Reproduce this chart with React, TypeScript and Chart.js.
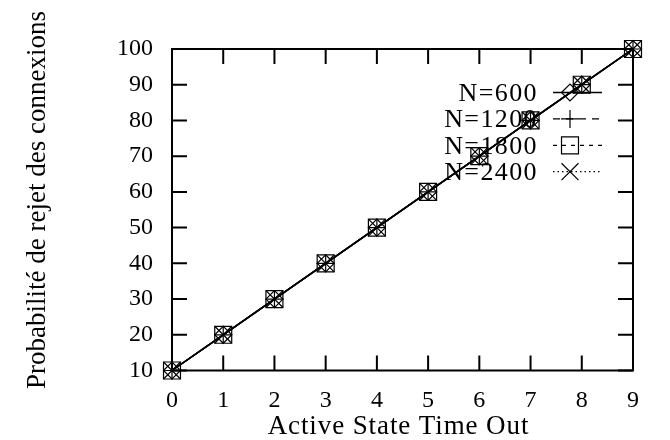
import React, { useEffect, useRef } from 'react';
import { Chart, registerables } from 'chart.js';

Chart.register(...registerables);

const timeOuts = [0, 1, 2, 3, 4, 5, 6, 7, 8, 9];
const rejectN600 = [10, 20, 30, 40, 50, 60, 70, 80, 90, 100];
const rejectN1200 = [10, 20, 30, 40, 50, 60, 70, 80, 90, 100];
const rejectN1800 = [10, 20, 30, 40, 50, 60, 70, 80, 90, 100];
const rejectN2400 = [10, 20, 30, 40, 50, 60, 70, 80, 90, 100];
const seriesLabels = ['N=600', 'N=1200', 'N=1800', 'N=2400'];
const xTitle = 'Active State Time Out';
const yTitle = 'Probabilité de rejet des connexions';

const FONT = '"Liberation Serif", "Times New Roman", serif';
const pointStyles = ['rectRot', 'cross', 'rect', 'crossRot'];
const pointRadii = [8.5, 9, 12, 12];
const legendDashes: number[][] = [[], [7, 6], [4, 5], [1.5, 3]];

function drawMarker(ctx: CanvasRenderingContext2D, style: string, x: number, y: number, r: number) {
  ctx.beginPath();
  if (style === 'rectRot') {
    ctx.moveTo(x - r, y);
    ctx.lineTo(x, y - r);
    ctx.lineTo(x + r, y);
    ctx.lineTo(x, y + r);
    ctx.closePath();
  } else if (style === 'cross') {
    ctx.moveTo(x, y - r);
    ctx.lineTo(x, y + r);
    ctx.moveTo(x - r, y);
    ctx.lineTo(x + r, y);
  } else if (style === 'rect') {
    const s = Math.SQRT1_2 * r;
    ctx.rect(x - s, y - s, 2 * s, 2 * s);
  } else {
    const o = Math.SQRT1_2 * r;
    ctx.moveTo(x - o, y - o);
    ctx.lineTo(x + o, y + o);
    ctx.moveTo(x + o, y - o);
    ctx.lineTo(x - o, y + o);
  }
  ctx.stroke();
}

const framePlugin = {
  id: 'gnuFrame',
  beforeDatasetsDraw(chart: any) {
    const { ctx, chartArea: a, scales } = chart;
    const xs = scales.x;
    const ys = scales.y;
    ctx.save();
    ctx.strokeStyle = '#000';
    ctx.lineWidth = 2;
    ctx.setLineDash([]);
    ctx.strokeRect(a.left, a.top, a.right - a.left, a.bottom - a.top);
    const tl = 15;
    ctx.beginPath();
    xs.ticks.forEach((t: any) => {
      const px = xs.getPixelForValue(t.value);
      ctx.moveTo(px, a.bottom);
      ctx.lineTo(px, a.bottom - tl);
      ctx.moveTo(px, a.top);
      ctx.lineTo(px, a.top + tl);
    });
    ys.ticks.forEach((t: any) => {
      const py = ys.getPixelForValue(t.value);
      ctx.moveTo(a.left, py);
      ctx.lineTo(a.left + tl, py);
      ctx.moveTo(a.right, py);
      ctx.lineTo(a.right - tl, py);
    });
    ctx.stroke();
    ctx.restore();
  },
  afterDraw(chart: any) {
    const { ctx, chartArea: a } = chart;
    ctx.save();
    ctx.fillStyle = '#000';
    // axis titles
    ctx.font = `27px ${FONT}`;
    ctx.textAlign = 'center';
    ctx.textBaseline = 'alphabetic';
    (ctx as any).letterSpacing = '0.9px';
    ctx.fillText(xTitle, (a.left + a.right) / 2 - 4, 434);
    (ctx as any).letterSpacing = '0px';
    ctx.save();
    ctx.translate(45, 200);
    ctx.rotate(-Math.PI / 2);
    ctx.fillText(yTitle, 0, 0);
    ctx.restore();
    // legend
    ctx.font = `26px ${FONT}`;
    ctx.textAlign = 'right';
    ctx.strokeStyle = '#000';
    seriesLabels.forEach((lab, i) => {
      const base = 101 + 26.4 * i;
      const my = base - 8.5;
      (ctx as any).letterSpacing = '1.4px';
      ctx.fillText(lab, 538, base);
      (ctx as any).letterSpacing = '0px';
      ctx.lineWidth = 1.3;
      ctx.setLineDash(legendDashes[i]);
      ctx.beginPath();
      ctx.moveTo(553, my);
      ctx.lineTo(602, my);
      ctx.stroke();
      ctx.setLineDash([]);
      ctx.lineWidth = 1.2;
      drawMarker(ctx, pointStyles[i], 570, my, pointRadii[i]);
    });
    ctx.restore();
  },
};

export default function App() {
  const ref = useRef<HTMLCanvasElement | null>(null);
  useEffect(() => {
    if (!ref.current) return;
    const series = [rejectN600, rejectN1200, rejectN1800, rejectN2400];
    const chart = new Chart(ref.current, {
      type: 'scatter',
      data: {
        datasets: series.map((vals, i) => ({
          label: seriesLabels[i],
          data: timeOuts.map((x, j) => ({ x, y: vals[j] })),
          showLine: true,
          borderColor: '#000',
          borderWidth: 1.5,
          pointStyle: pointStyles[i] as any,
          pointRadius: pointRadii[i],
          pointBorderColor: '#000',
          pointBorderWidth: 1.2,
          pointBackgroundColor: 'rgba(0,0,0,0)',
          clip: false as any,
        })),
      },
      options: {
        animation: false,
        responsive: false,
        events: [],
        layout: { padding: { top: 49, right: 37, left: 0, bottom: 0 } },
        plugins: { legend: { display: false }, tooltip: { enabled: false } },
        scales: {
          x: {
            type: 'linear',
            min: 0,
            max: 9,
            grid: { display: false, drawTicks: false },
            border: { display: false },
            ticks: { stepSize: 1, color: '#000', padding: 16, font: { family: FONT, size: 24 } },
            afterFit: (s: any) => { s.height = 69.5; },
          },
          y: {
            type: 'linear',
            min: 10,
            max: 100,
            grid: { display: false, drawTicks: false },
            border: { display: false },
            ticks: { stepSize: 10, color: '#000', padding: 19, font: { family: FONT, size: 24 } },
            afterFit: (s: any) => { s.width = 172; },
          },
        },
      },
      plugins: [framePlugin],
    });
    return () => chart.destroy();
  }, []);
  return (
    <div style={{ position: 'absolute', left: 0, top: 0, width: 670, height: 440, background: '#fff' }}>
      <canvas ref={ref} width={670} height={440} style={{ width: 670, height: 440 }} />
    </div>
  );
}
